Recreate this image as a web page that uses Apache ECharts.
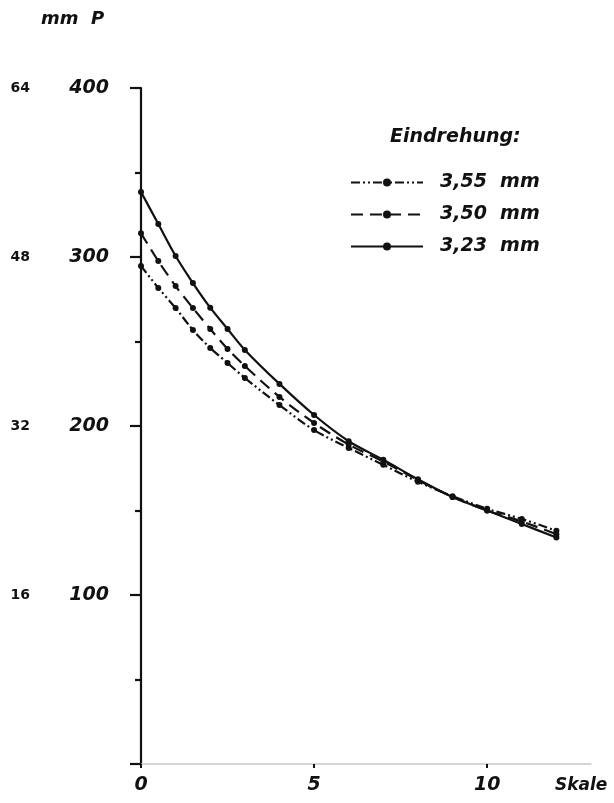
<!DOCTYPE html>
<html>
<head>
<meta charset="utf-8">
<script src="https://cdn.jsdelivr.net/npm/echarts@6/dist/echarts.min.js"></script>
<style>
  html, body { margin: 0; padding: 0; background: #fff; }
  #main { width: 614px; height: 803px; }
</style>
</head>
<body>
<div id="main"></div>
<script>
var skale = [0, 0.5, 1, 1.5, 2, 2.5, 3, 4, 5, 6, 7, 8, 9, 10, 11, 12]
var p355 = [294.7, 281.7, 269.8, 256.8, 246.2, 237.3, 228.4, 212.4, 197.6, 187, 177, 167, 158.5, 151, 145, 138]
var p350 = [314, 297.6, 282.8, 269.8, 257.4, 245.6, 235.5, 217.2, 201.8, 189, 179, 168, 158, 150, 143.5, 136]
var p323 = [338.5, 319.5, 300.6, 284.6, 270, 257.4, 245, 224.9, 206.5, 191, 180, 168.5, 158, 150, 142, 134]
var names = ['3,55  mm', '3,50  mm', '3,23  mm']

var font = 'DejaVu Sans'
var ink = '#111'

function pairs(ys) {
    var out = []
    for (var i = 0; i < skale.length; i++) {
        out.push([skale[i], ys[i]])
    }
    return out
}

function line_series(name, ys, dash) {
    return {
        name: name,
        type: 'line',
        data: pairs(ys),
        smooth: 0.3,
        symbol: 'circle',
        symbolSize: 6,
        itemStyle: { color: ink },
        lineStyle: { color: ink, width: 2.2, type: dash },
        yAxisIndex: 0,
    }
}

var myChart = echarts.init(document.getElementById('main'))

var option = {
    animation: false,
    backgroundColor: '#fff',
    textStyle: { fontFamily: font },
    title: [
        {
            text: 'mm  P',
            left: 36,
            top: 5,
            textStyle: { fontFamily: font, fontStyle: 'italic', fontWeight: 'bold', fontSize: 18, color: ink },
        },
        {
            text: 'Eindrehung:',
            left: 385,
            top: 123,
            textStyle: { fontFamily: font, fontStyle: 'italic', fontWeight: 'bold', fontSize: 19, color: ink },
        },
    ],
    legend: {
        orient: 'vertical',
        left: 345,
        top: 168,
        itemWidth: 72,
        itemHeight: 10,
        itemGap: 13,
        data: names,
        textStyle: { fontFamily: font, fontStyle: 'italic', fontWeight: 'bold', fontSize: 19, color: ink, padding: [0, 0, 0, 12] },
    },
    grid: { left: 141, right: 23, top: 88, bottom: 39 },
    xAxis: {
        type: 'value',
        min: 0,
        max: 13,
        interval: 5,
        name: 'Skale',
        nameLocation: 'end',
        nameGap: -36,
        nameTextStyle: {
            fontFamily: font, fontStyle: 'italic', fontWeight: 'bold', fontSize: 17, color: ink,
            verticalAlign: 'top', align: 'left', padding: [13, 0, 0, 0],
        },
        axisLine: { show: true, lineStyle: { color: '#c8c8c8', width: 1.5 } },
        axisTick: { show: true, length: 4, lineStyle: { color: ink, width: 2 } },
        splitLine: { show: false },
        axisLabel: {
            margin: 12,
            fontFamily: font, fontStyle: 'italic', fontWeight: 'bold', fontSize: 19, color: ink,
            showMaxLabel: false,
            formatter: function (v) { return v % 5 === 0 ? String(v) : '' },
        },
    },
    yAxis: [
        {
            type: 'value',
            min: 0,
            max: 400,
            interval: 100,
            position: 'left',
            axisLine: { show: true, lineStyle: { color: ink, width: 2.2 } },
            axisTick: { show: true, length: 11, lineStyle: { color: ink, width: 2.2 } },
            minorTick: { show: true, splitNumber: 2, length: 6, lineStyle: { color: ink, width: 2.2 } },
            splitLine: { show: false },
            axisLabel: {
                margin: 32,
                fontFamily: font, fontStyle: 'italic', fontWeight: 'bold', fontSize: 19, color: ink,
                formatter: function (v) { return v === 0 ? '' : String(v) },
            },
        },
        {
            type: 'value',
            min: 0,
            max: 64,
            interval: 16,
            position: 'left',
            offset: 103,
            axisLine: { show: false },
            axisTick: { show: false },
            splitLine: { show: false },
            axisLabel: {
                margin: 8,
                fontFamily: font, fontWeight: 'bold', fontSize: 14, color: ink,
                formatter: function (v) { return v === 0 ? '' : String(v) },
            },
        },
    ],
    series: [
        line_series(names[0], p355, [9, 3, 2, 3, 2, 3]),
        line_series(names[1], p350, [12, 7]),
        line_series(names[2], p323, 'solid'),
    ],
}

myChart.setOption(option)
</script>
</body>
</html>
